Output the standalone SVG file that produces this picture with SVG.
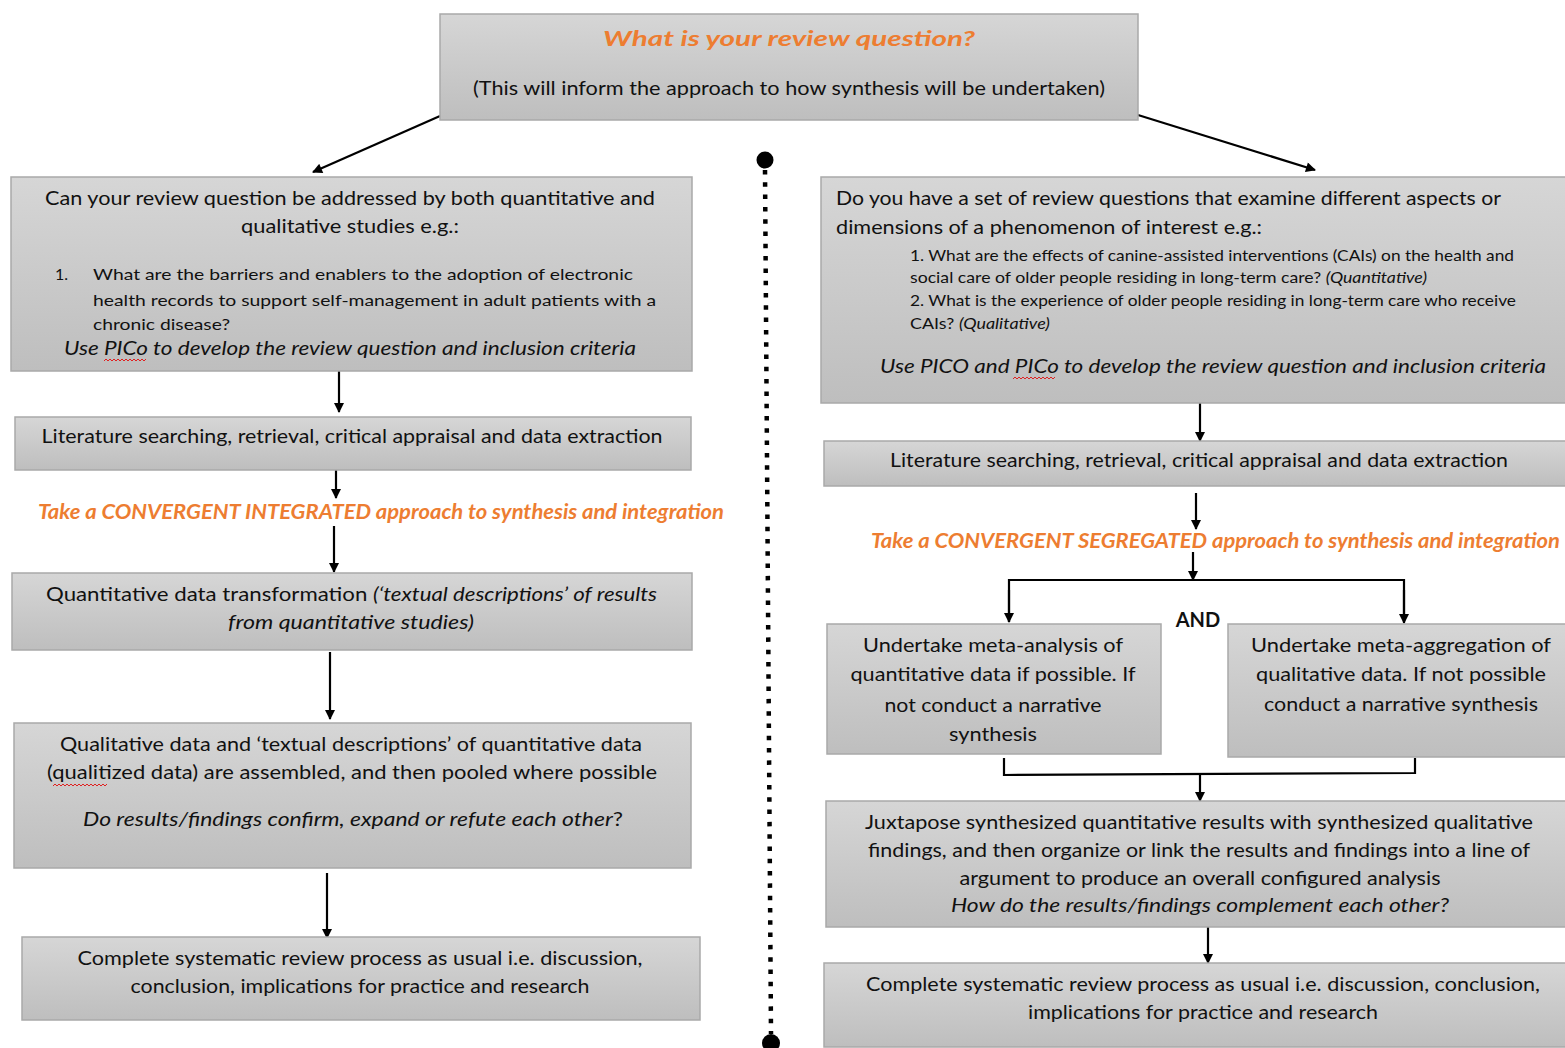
<svg xmlns="http://www.w3.org/2000/svg" width="1565" height="1048" viewBox="0 0 1565 1048">
<defs>
<linearGradient id="g" x1="0" y1="0" x2="0" y2="1">
<stop offset="0" stop-color="#d6d6d6"/>
<stop offset="1" stop-color="#bebebe"/>
</linearGradient>
<marker id="ah" viewBox="0 0 10 10" refX="9" refY="5" markerWidth="11" markerHeight="10" markerUnits="userSpaceOnUse" orient="auto">
<path d="M0,0 L10,5 L0,10 z" fill="#000"/>
</marker>
<style>
.box{fill:url(#g);stroke:#a9a9a9;stroke-width:1.5}
text{font-family:Lato,"Open Sans","Liberation Sans",sans-serif;fill:#111;font-size:20px}
.c{text-anchor:middle}
.i{font-style:italic}
.o{fill:#ED7D31;font-weight:bold;font-style:italic}
.s{font-size:16px}
.con{stroke:#000;stroke-width:2.2;fill:none}
.arr{stroke:#000;stroke-width:2.2;fill:none;marker-end:url(#ah)}
.wav{stroke:#e02020;stroke-width:1;fill:none}
</style>
</defs>
<rect width="1565" height="1048" fill="#fff"/>

<g id="connectors">
<line class="arr" x1="440" y1="116" x2="313" y2="172"/>
<line class="arr" x1="1138" y1="115" x2="1315" y2="170"/>
<line class="arr" x1="339" y1="371" x2="339" y2="412"/>
<line class="arr" x1="336" y1="470" x2="336" y2="498"/>
<line class="arr" x1="334" y1="526" x2="334" y2="572"/>
<line class="arr" x1="330" y1="652" x2="330" y2="719"/>
<line class="arr" x1="327" y1="873" x2="327" y2="938"/>
<line class="arr" x1="1200" y1="403" x2="1200" y2="441"/>
<line class="arr" x1="1196" y1="493" x2="1196" y2="529"/>
<line class="arr" x1="1193" y1="552" x2="1193" y2="580"/>
<polyline class="con" points="1009,622 1009,580 1404,580 1404,622"/>
<line class="arr" x1="1009" y1="590" x2="1009" y2="622"/>
<line class="arr" x1="1404" y1="590" x2="1404" y2="623"/>
<polyline class="con" points="1004,758 1004,775 1415,773 1415,758"/>
<line class="arr" x1="1200" y1="773" x2="1200" y2="801"/>
<line class="arr" x1="1208" y1="923" x2="1208" y2="963"/>
<line x1="765" y1="170" x2="771" y2="1034" stroke="#000" stroke-width="4.5" stroke-dasharray="4.5 7.8"/>
<circle cx="765" cy="160" r="8.5" fill="#000"/>
<circle cx="771" cy="1043" r="9" fill="#000"/>
</g>

<g id="top">
<rect class="box" x="440" y="14" width="698" height="106"/>
<text class="c o" x="789" y="46" font-size="26" textLength="372" lengthAdjust="spacingAndGlyphs">What is your review question?</text>
<text class="c" x="789" y="95" textLength="632" lengthAdjust="spacingAndGlyphs">(This will inform the approach to how synthesis will be undertaken)</text>
</g>

<g id="left1">
<rect class="box" x="11" y="177" width="681" height="194"/>
<text class="c" x="350" y="205" textLength="610" lengthAdjust="spacingAndGlyphs">Can your review question be addressed by both quantitative and</text>
<text class="c" x="350" y="233" textLength="218" lengthAdjust="spacingAndGlyphs">qualitative studies e.g.:</text>
<text class="s" x="55" y="280">1.</text>
<text class="s" x="93" y="280" textLength="540" lengthAdjust="spacingAndGlyphs">What are the barriers and enablers to the adoption of electronic</text>
<text class="s" x="93" y="306" textLength="563" lengthAdjust="spacingAndGlyphs">health records to support self-management  in adult patients with a</text>
<text class="s" x="93" y="330" textLength="137" lengthAdjust="spacingAndGlyphs">chronic disease?</text>
<text class="i" x="64" y="355" textLength="572" lengthAdjust="spacingAndGlyphs">Use PICo to develop the review question and inclusion criteria</text>
<path class="wav" d="M104,361 l2,-2 l2,2 l2,-2 l2,2 l2,-2 l2,2 l2,-2 l2,2 l2,-2 l2,2 l2,-2 l2,2 l2,-2 l2,2 l2,-2 l2,2 l2,-2 l2,2 l2,-2 l2,2 l2,-2"/>
</g>

<g id="left2">
<rect class="box" x="15" y="417" width="676" height="53"/>
<text class="c" x="352" y="443" textLength="621" lengthAdjust="spacingAndGlyphs">Literature searching, retrieval, critical appraisal and data extraction</text>
</g>

<g id="left-label">
<text class="o" x="38" y="519" textLength="686" lengthAdjust="spacingAndGlyphs">Take a CONVERGENT INTEGRATED approach to synthesis and integration</text>
</g>

<g id="left3">
<rect class="box" x="12" y="573" width="680" height="77"/>
<text x="46" y="601" textLength="611" lengthAdjust="spacingAndGlyphs">Quantitative data transformation <tspan class="i">(‘textual descriptions’ of results</tspan></text>
<text class="c i" x="351" y="629" textLength="246" lengthAdjust="spacingAndGlyphs">from quantitative studies)</text>
</g>

<g id="left4">
<rect class="box" x="14" y="723" width="677" height="145"/>
<text class="c" x="351" y="751" textLength="582" lengthAdjust="spacingAndGlyphs">Qualitative data and ‘textual descriptions’ of quantitative data</text>
<text class="c" x="352" y="779" textLength="610" lengthAdjust="spacingAndGlyphs">(qualitized data) are assembled, and then pooled where possible</text>
<path class="wav" d="M53,786 l2,-2 l2,2 l2,-2 l2,2 l2,-2 l2,2 l2,-2 l2,2 l2,-2 l2,2 l2,-2 l2,2 l2,-2 l2,2 l2,-2 l2,2 l2,-2 l2,2 l2,-2 l2,2 l2,-2 l2,2 l2,-2 l2,2 l2,-2 l2,2 l2,-2"/>
<text class="c" x="353" y="826" textLength="540" lengthAdjust="spacingAndGlyphs"><tspan class="i">Do results/findings confirm, expand or refute each other</tspan>?</text>
</g>

<g id="left5">
<rect class="box" x="22" y="937" width="678" height="83"/>
<text class="c" x="360" y="965" textLength="565" lengthAdjust="spacingAndGlyphs">Complete systematic review process as usual i.e. discussion,</text>
<text class="c" x="360" y="993" textLength="459" lengthAdjust="spacingAndGlyphs">conclusion, implications for practice and research</text>
</g>

<g id="right1">
<rect class="box" x="821" y="177" width="750" height="226"/>
<text x="836" y="205" textLength="665" lengthAdjust="spacingAndGlyphs">Do you have a set of review questions that examine different aspects or</text>
<text x="836" y="234" textLength="426" lengthAdjust="spacingAndGlyphs">dimensions of a phenomenon of interest e.g.:</text>
<text class="s" x="910" y="261" textLength="604" lengthAdjust="spacingAndGlyphs">1. What are the effects of canine-assisted interventions  (CAIs) on the health and</text>
<text class="s" x="910" y="283" textLength="517" lengthAdjust="spacingAndGlyphs">social care of older people residing in long-term care? <tspan class="i">(Quantitative)</tspan></text>
<text class="s" x="910" y="306" textLength="606" lengthAdjust="spacingAndGlyphs">2. What is the experience of older people residing in long-term care who receive</text>
<text class="s" x="910" y="329" textLength="140" lengthAdjust="spacingAndGlyphs">CAIs? <tspan class="i">(Qualitative)</tspan></text>
<text class="i" x="880" y="373" textLength="666" lengthAdjust="spacingAndGlyphs">Use PICO and PICo to develop the review question and inclusion criteria</text>
<path class="wav" d="M1013,379 l2,-2 l2,2 l2,-2 l2,2 l2,-2 l2,2 l2,-2 l2,2 l2,-2 l2,2 l2,-2 l2,2 l2,-2 l2,2 l2,-2 l2,2 l2,-2 l2,2 l2,-2 l2,2 l2,-2"/>
</g>

<g id="right2">
<rect class="box" x="824" y="441" width="747" height="45"/>
<text class="c" x="1199" y="467" textLength="618" lengthAdjust="spacingAndGlyphs">Literature searching, retrieval, critical appraisal and data extraction</text>
</g>

<g id="right-label">
<text class="o" x="871" y="548" textLength="689" lengthAdjust="spacingAndGlyphs">Take a CONVERGENT SEGREGATED approach to synthesis and integration</text>
<text class="c" x="1198" y="627" font-weight="bold" font-size="18">AND</text>
</g>

<g id="right3a">
<rect class="box" x="827" y="624" width="334" height="130"/>
<text class="c" x="993" y="652" textLength="260" lengthAdjust="spacingAndGlyphs">Undertake meta-analysis of</text>
<text class="c" x="993" y="681" textLength="285" lengthAdjust="spacingAndGlyphs">quantitative data if possible. If</text>
<text class="c" x="993" y="712" textLength="217" lengthAdjust="spacingAndGlyphs">not conduct a narrative</text>
<text class="c" x="993" y="741" textLength="88" lengthAdjust="spacingAndGlyphs">synthesis</text>
</g>

<g id="right3b">
<rect class="box" x="1228" y="624" width="343" height="133"/>
<text class="c" x="1401" y="652" textLength="300" lengthAdjust="spacingAndGlyphs">Undertake meta-aggregation of</text>
<text class="c" x="1401" y="681" textLength="290" lengthAdjust="spacingAndGlyphs">qualitative data. If not possible</text>
<text class="c" x="1401" y="711" textLength="274" lengthAdjust="spacingAndGlyphs">conduct a narrative synthesis</text>
</g>

<g id="right4">
<rect class="box" x="826" y="801" width="745" height="126"/>
<text class="c" x="1199" y="829" textLength="668" lengthAdjust="spacingAndGlyphs">Juxtapose synthesized quantitative results with synthesized qualitative</text>
<text class="c" x="1199" y="857" textLength="662" lengthAdjust="spacingAndGlyphs">findings, and then organize or link the results and findings into a line of</text>
<text class="c" x="1200" y="885" textLength="481" lengthAdjust="spacingAndGlyphs">argument to produce an overall configured analysis</text>
<text class="c i" x="1200" y="912" textLength="498" lengthAdjust="spacingAndGlyphs">How do the results/findings complement each other?</text>
</g>

<g id="right5">
<rect class="box" x="824" y="963" width="747" height="84"/>
<text class="c" x="1203" y="991" textLength="674" lengthAdjust="spacingAndGlyphs">Complete systematic review process as usual i.e. discussion, conclusion,</text>
<text class="c" x="1203" y="1019" textLength="350" lengthAdjust="spacingAndGlyphs">implications for practice and research</text>
</g>
</svg>
